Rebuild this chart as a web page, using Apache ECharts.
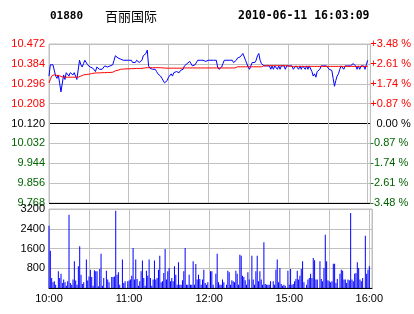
<!DOCTYPE html>
<html><head><meta charset="utf-8">
<script src="https://cdn.jsdelivr.net/npm/echarts@6/dist/echarts.min.js"></script>
<style>html,body{margin:0;padding:0;background:#fff}#c{width:414px;height:314px}</style>
</head><body><div id="c"></div>
<script>
const stockCode = '01880';
const stockName = '百丽国际';
const stamp = '2010-06-11 16:03:09';
const prevClose = 10.12;
const timeLabels = {0:'10:00', 60:'11:00', 120:'12:00', 180:'15:00', 240:'16:00'};

// minute-by-minute last price (index 0 = 10:00, 240 = 16:00, lunch break removed)
const price = [
10.33,10.38,10.38,10.38,10.38,10.33,10.32,10.335,10.30,10.26,
10.26,10.335,10.315,10.345,10.345,10.33,10.345,10.345,10.335,10.345,
10.345,10.315,10.32,10.40,10.38,10.37,10.385,10.40,10.40,10.38,
10.38,10.37,10.365,10.365,10.36,10.35,10.37,10.37,10.36,10.36,
10.36,10.36,10.375,10.375,10.37,10.365,10.375,10.37,10.38,10.40,
10.42,10.415,10.41,10.41,10.405,10.40,10.40,10.40,10.40,10.40,
10.40,10.40,10.40,10.39,10.39,10.39,10.40,10.40,10.39,10.39,
10.40,10.42,10.42,10.43,10.445,10.375,10.365,10.365,10.36,10.36,
10.36,10.35,10.34,10.335,10.33,10.32,10.315,10.30,10.30,10.31,
10.325,10.33,10.34,10.33,10.345,10.34,10.35,10.355,10.345,10.355,
10.355,10.36,10.375,10.37,10.385,10.39,10.395,10.39,10.375,10.37,
10.38,10.38,10.40,10.40,10.40,10.40,10.40,10.40,10.395,10.40,
10.40,10.40,10.40,10.40,10.40,10.40,10.40,10.37,10.36,10.36,
10.37,10.385,10.40,10.40,10.40,10.40,10.40,10.40,10.40,10.39,
10.395,10.40,10.41,10.41,10.415,10.42,10.43,10.425,10.40,10.40,
10.37,10.36,10.36,10.39,10.39,10.39,10.40,10.42,10.43,10.40,
10.385,10.38,10.375,10.375,10.375,10.37,10.375,10.36,10.375,10.36,
10.375,10.375,10.36,10.375,10.36,10.375,10.375,10.375,10.36,10.375,
10.375,10.375,10.375,10.375,10.36,10.36,10.375,10.375,10.36,10.375,
10.36,10.375,10.375,10.36,10.375,10.36,10.375,10.375,10.35,10.33,
10.34,10.325,10.35,10.35,10.36,10.375,10.375,10.375,10.375,10.375,
10.37,10.36,10.36,10.355,10.32,10.285,10.31,10.33,10.34,10.36,
10.375,10.375,10.36,10.375,10.375,10.375,10.375,10.375,10.375,10.385,
10.39,10.375,10.36,10.375,10.36,10.375,10.38,10.375,10.36,10.38,
10.40
];

// running average price
const avgPrice = [
10.300,10.315,10.330,10.336,10.336,10.334,10.333,10.332,10.331,10.329,
10.326,10.325,10.325,10.325,10.325,10.325,10.325,10.325,10.325,10.325,
10.325,10.325,10.325,10.327,10.330,10.332,10.335,10.336,10.337,10.338,
10.338,10.340,10.341,10.342,10.343,10.344,10.344,10.344,10.344,10.345,
10.345,10.345,10.345,10.345,10.346,10.346,10.346,10.346,10.347,10.350,
10.353,10.355,10.356,10.357,10.360,10.360,10.361,10.361,10.362,10.362,
10.362,10.363,10.363,10.363,10.363,10.364,10.364,10.364,10.364,10.364,
10.364,10.365,10.366,10.367,10.367,10.367,10.367,10.367,10.367,10.367,
10.367,10.367,10.367,10.367,10.367,10.366,10.366,10.365,10.365,10.365,
10.365,10.365,10.365,10.365,10.365,10.365,10.365,10.365,10.365,10.365,
10.365,10.366,10.366,10.366,10.366,10.366,10.366,10.366,10.366,10.366,
10.366,10.366,10.366,10.366,10.366,10.366,10.366,10.366,10.366,10.366,
10.366,10.366,10.366,10.366,10.366,10.366,10.366,10.366,10.366,10.366,
10.366,10.366,10.366,10.366,10.366,10.366,10.366,10.366,10.366,10.366,
10.366,10.371,10.371,10.371,10.371,10.371,10.371,10.371,10.371,10.371,
10.371,10.371,10.371,10.371,10.371,10.371,10.371,10.371,10.371,10.371,
10.371,10.376,10.376,10.376,10.376,10.376,10.376,10.376,10.376,10.376,
10.376,10.376,10.376,10.376,10.376,10.376,10.376,10.376,10.376,10.376,
10.376,10.373,10.373,10.373,10.373,10.373,10.373,10.373,10.373,10.373,
10.373,10.373,10.373,10.373,10.373,10.373,10.373,10.373,10.373,10.373,
10.373,10.373,10.373,10.373,10.373,10.373,10.373,10.373,10.373,10.373,
10.373,10.373,10.373,10.373,10.373,10.373,10.373,10.373,10.373,10.373,
10.373,10.373,10.373,10.373,10.373,10.373,10.373,10.373,10.373,10.373,
10.373,10.373,10.373,10.373,10.373,10.373,10.373,10.373,10.373,10.373,
10.373
];

// volume per minute
const volume = [
2525,1510,405,230,270,135,0,675,405,580,
200,340,230,95,270,2970,200,135,340,1080,
300,135,880,1690,540,160,230,0,1150,300,
470,740,445,95,715,675,675,70,770,1390,
95,405,0,700,340,230,0,445,445,470,
3130,540,635,135,0,1150,200,270,0,270,
300,340,500,1620,340,1150,365,95,270,675,
1110,405,95,700,500,1150,405,95,340,1110,
340,405,740,1310,230,270,610,1580,340,675,
810,270,405,270,880,540,135,1040,135,135,
310,675,1620,135,135,540,135,135,1080,135,
970,340,540,365,135,340,740,200,135,230,
0,675,675,135,0,580,1390,230,135,135,
340,230,0,135,700,635,135,310,270,230,
700,580,135,1350,1310,500,445,310,135,635,
340,0,1310,340,135,675,1310,270,675,340,
135,1850,160,135,135,135,270,0,270,135,
740,1150,230,810,160,95,135,95,0,700,
135,770,135,160,270,365,700,340,500,770,
1080,230,0,135,340,405,580,405,1215,1120,
340,340,0,1080,365,270,810,2160,1080,310,
270,230,270,985,985,200,365,0,580,740,
700,340,340,200,340,310,3040,340,270,580,
610,1040,810,340,270,405,0,2120,580,740,
880
];

const pctStep = 0.088 / prevClose * 100;
const GRAY = '#c0c0c0';
const RED = '#ff0000';
const GREEN = '#006400';
const FONT = 'Liberation Sans';

const chart = echarts.init(document.getElementById('c'), null, {renderer: 'canvas'});
chart.setOption({
  animation: false,
  backgroundColor: '#fff',
  graphic: [
    {type:'text', x:50, y:16, style:{text:stockCode, font:'bold 11px "DejaVu Sans Mono"', fill:'#000', verticalAlign:'middle'}},
    {type:'text', x:105, y:16, style:{text:stockName, font:'13px "Noto Sans CJK SC"', fill:'#000', verticalAlign:'middle'}},
    {type:'text', x:238, y:16, style:{text:stamp, font:'bold 11.5px "DejaVu Sans Mono"', fill:'#000', verticalAlign:'middle'}}
  ],
  grid: [
    {left:49, top:44, width:323, height:159, show:true, borderColor:GRAY, borderWidth:1},
    {left:49, top:209, width:323, height:79, show:true, borderColor:GRAY, borderWidth:1}
  ],
  xAxis: [
    {type:'value', gridIndex:0, min:0, max:242, interval:30,
     axisLine:{show:false}, axisTick:{show:false}, axisLabel:{show:false},
     splitLine:{show:true, lineStyle:{color:GRAY, width:1}}},
    {type:'value', gridIndex:1, min:0, max:242, interval:30,
     axisLine:{show:true, onZero:false, lineStyle:{color:'#000', width:1}}, axisTick:{show:false},
     axisLabel:{show:true, margin:5, fontSize:11, fontFamily:FONT, color:'#000',
       formatter: v => timeLabels[v] || ''},
     splitLine:{show:true, lineStyle:{color:GRAY, width:1}}}
  ],
  yAxis: [
    {type:'value', gridIndex:0, position:'left', min:9.768, max:10.472, interval:0.088,
     axisLine:{show:false}, axisTick:{show:false},
     axisLabel:{margin:4, fontSize:11, fontFamily:FONT,
       formatter: v => v.toFixed(3),
       color: v => (v > prevClose + 0.0005 ? RED : (v < prevClose - 0.0005 ? GREEN : '#000'))},
     splitLine:{show:true, lineStyle:{width:1, color:['#000',GRAY,GRAY,GRAY,'#000',GRAY,GRAY,GRAY,GRAY]}}},
    {type:'value', gridIndex:0, position:'right', min:-4*pctStep, max:4*pctStep, interval:pctStep,
     axisLine:{show:false}, axisTick:{show:false}, splitLine:{show:false},
     axisLabel:{margin:0, fontSize:11, fontFamily:FONT,
       formatter: v => (v > 0.001 ? '+' + v.toFixed(2) + ' %' : (v < -0.001 ? '-' + Math.abs(v).toFixed(2) + ' %' : '  0.00 %')),
       color: v => (v > 0.001 ? RED : (v < -0.001 ? GREEN : '#000'))}},
    {type:'value', gridIndex:1, position:'left', min:0, max:3200, interval:800,
     axisLine:{show:false}, axisTick:{show:false},
     axisLabel:{margin:4, fontSize:11, fontFamily:FONT, color:'#000', padding:[6,0,0,0],
       formatter: v => (v === 0 ? '' : String(v))},
     splitLine:{show:true, lineStyle:{color:GRAY, width:1}}}
  ],
  series: [
    {type:'line', xAxisIndex:0, yAxisIndex:0, data: price.map((v,i)=>[i,v]),
     showSymbol:false, symbol:'none', lineStyle:{color:'#0000ff', width:1}, z:3},
    {type:'line', xAxisIndex:0, yAxisIndex:0, data: avgPrice.map((v,i)=>[i,v]),
     showSymbol:false, symbol:'none', lineStyle:{color:'#ff0000', width:1}, z:4},
    {type:'bar', xAxisIndex:1, yAxisIndex:2, data: volume.map((v,i)=>[i,v]),
     barWidth:1, itemStyle:{color:'#0000ff'}, z:3}
  ]
});
</script>
</body></html>
